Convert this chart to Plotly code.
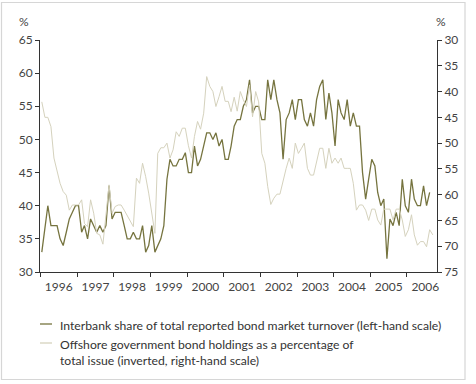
import plotly.graph_objects as go

# ---- data (monthly, starting Jan 1996) ----
start_year = 1996
interbank_share = [
    33, 36.5, 40, 37, 37, 37, 35, 34, 36, 38, 39, 40,      # 1996
    40, 36, 37, 35, 38, 37, 36, 37, 36, 37, 43, 38,        # 1997
    39, 39, 39, 37, 35, 35, 36, 35, 35, 37, 33, 34,        # 1998
    37, 33, 34, 35, 37, 44, 47, 46, 46, 47, 47, 48,        # 1999
    45, 45, 49, 46, 47, 49, 51, 51, 50, 51, 49, 50,        # 2000
    47, 47, 49, 52, 53, 53, 55, 56, 59, 54, 55, 55,        # 2001
    53, 53, 59, 56, 59, 56, 54, 47, 53, 54, 56, 53,        # 2002
    56, 56, 53, 52, 54, 52, 56, 58, 59, 53, 57, 54,        # 2003
    49, 56, 54, 53, 56, 52, 54, 52, 52, 45, 41, 44,        # 2004
    47, 46, 42, 40, 41, 32, 38, 37, 39, 37, 44, 40,        # 2005
    39, 44, 41, 40, 40, 43, 40, 42,                        # 2006
]
offshore_holdings = [
    42, 45, 45, 46.8, 52.9, 55.5, 57.8, 59.4, 60.1, 63, 62, 62,            # 1996
    62, 61, 65.6, 66.2, 61, 63.6, 67.5, 67.8, 69.6, 64, 58.1, 63.6,        # 1997
    62.3, 62, 62, 63, 64, 65, 66.2, 56.8, 57.8, 53.9, 56.5, 59.7,          # 1998
    63.6, 67.5, 52, 50.9, 50.9, 50, 52.9, 51.3, 47.8, 48.7, 47.1, 47.1,    # 1999
    50.5, 52.9, 48.7, 45.8, 47.3, 44.2, 37.1, 39, 40, 42.9, 41, 39,        # 2000
    41.9, 41.9, 43.9, 41.1, 43.8, 40, 41.6, 42.9, 38.7, 44.9, 40, 42,      # 2001
    52, 53.9, 58.4, 61.9, 60.7, 59.9, 59.9, 57.1, 54.9, 52.9, 54.9, 50,    # 2002
    52, 51, 50, 54.9, 56.2, 56.2, 53.9, 51, 51, 54.9, 51, 53.9,            # 2003
    52.9, 53.9, 52.9, 54.9, 54.9, 54.9, 57.8, 63, 62, 62, 63, 65,          # 2004
    62.8, 62.8, 64.9, 65.9, 62.8, 62.8, 62.8, 64.9, 62.8, 62.8, 64.9, 68.1,  # 2005
    66.8, 63.9, 67.8, 69.8, 69.1, 69.1, 70.1, 66.8, 67.8,                  # 2006
]
year_labels = [str(y) for y in range(1996, 2007)]
left_ticks = [30, 35, 40, 45, 50, 55, 60, 65]
right_ticks = [30, 35, 40, 45, 50, 55, 60, 65, 70, 75]

names = [
    "Interbank share of total reported bond market turnover (left-hand scale)",
    "Offshore government bond holdings as a percentage of<br>total issue (inverted, right-hand scale)",
]


def month_dates(n):
    return [f"{start_year + m // 12}-{m % 12 + 1:02d}-15" for m in range(n)]


GREEN = "#76743f"
LIGHT = "#d5d2bd"
AX = "#333333"
FONT = "Lato"

fig = go.Figure()
fig.add_trace(go.Scatter(
    x=month_dates(len(offshore_holdings)), y=offshore_holdings, yaxis="y2",
    mode="lines", line=dict(color=LIGHT, width=1), name=names[1], showlegend=False,
    hoverinfo="skip"))
fig.add_trace(go.Scatter(
    x=month_dates(len(interbank_share)), y=interbank_share, yaxis="y",
    mode="lines", line=dict(color=GREEN, width=1.3), name=names[0], showlegend=False,
    hoverinfo="skip"))

axis_common = dict(showline=True, linecolor=AX, linewidth=1, ticks="outside",
                   ticklen=4, tickcolor=AX, showgrid=False, zeroline=False,
                   automargin=False,
                   tickfont=dict(family=FONT, size=12, color="#444444"))

fig.update_layout(
    width=476, height=384, autosize=False,
    margin=dict(l=40, r=39, t=40, b=112, pad=0, autoexpand=False),
    paper_bgcolor="white", plot_bgcolor="white",
    showlegend=False,
    font=dict(family=FONT, size=12, color="#333333"),
    xaxis=dict(type="date", range=["1995-12-28", "2006-10-27"],
               tick0="1996-01-01", dtick="M12", tickformat="%Y",
               ticklabelmode="period", **axis_common),
    yaxis=dict(range=[30, 65], tickvals=left_ticks, **axis_common),
    yaxis2=dict(range=[75, 30], tickvals=right_ticks, overlaying="y",
                side="right", **axis_common),
)


def px_x(px):
    return (px - 40) / 397


def px_y(py):
    return (272 - py) / 232


# units
for xp in (24, 441):
    fig.add_annotation(text="%", xref="paper", yref="paper", x=px_x(xp), y=px_y(22),
                       xanchor="center", yanchor="middle", showarrow=False,
                       font=dict(family=FONT, size=12, color="#444444"))

# legend (custom)
legend_rows = [(324, names[0], GREEN, 1.3), (343, names[1], LIGHT, 1.3)]
for py, txt, col, w in legend_rows:
    fig.add_shape(type="line", xref="paper", yref="paper",
                  x0=px_x(40), x1=px_x(52), y0=px_y(py), y1=px_y(py),
                  line=dict(color=col, width=w))
    fig.add_annotation(text=txt, xref="paper", yref="paper", x=px_x(58), y=px_y(py - 8.5),
                       xanchor="left", yanchor="top", align="left", showarrow=False,
                       font=dict(family=FONT, size=12.2, color="#333333"))

# frame
fig.add_shape(type="rect", xref="paper", yref="paper",
              x0=px_x(1.5), x1=px_x(465), y0=px_y(379.5), y1=px_y(2.5),
              line=dict(color="#d6d6d6", width=1.2), layer="below")

fig.write_html("out.html",
               config={"displayModeBar": False, "staticPlot": True},
               post_script="document.body.style.margin='0';document.body.style.overflow='hidden';")
